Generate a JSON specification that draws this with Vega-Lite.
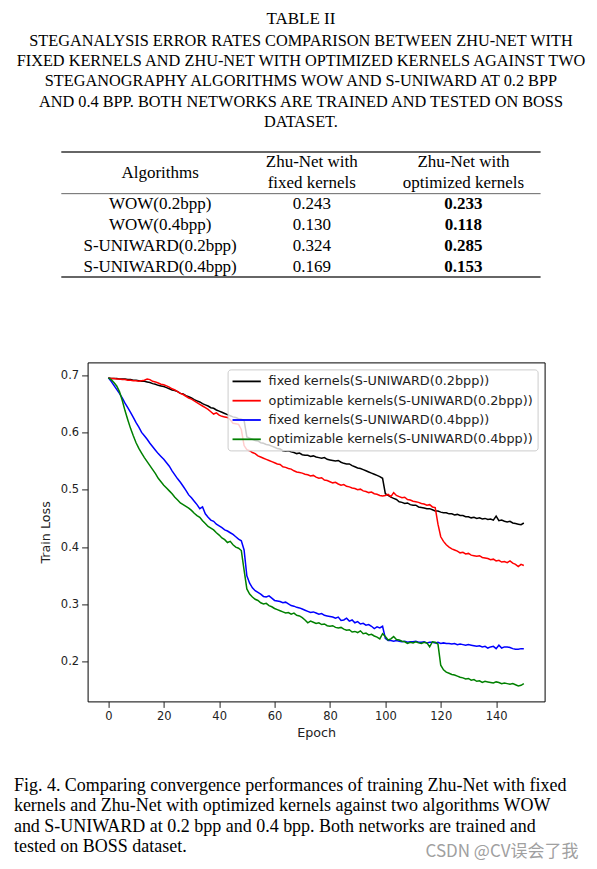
{
  "$schema": "https://vega.github.io/schema/vega-lite/v6.json",
  "background": "white",
  "padding": {"left": 13.3, "top": 9, "right": 0, "bottom": 12},
  "autosize": {"type": "pad"},
  "bounds": "flush",
  "spacing": 85.4,
  "resolve": {"legend": {"color": "independent"}},
  "title": {"text": "CSDN @CV误会了我", "orient": "bottom", "anchor": "start", "align": "left", "frame": "group", "dx": 364.3, "offset": -12.5, "font": "Noto Sans CJK SC", "fontSize": 17, "fontWeight": "normal", "color": "#a0a0a0"},
  "vconcat": [
    {
      "width": 479.3,
      "height": 125,
      "title": {
        "text": "TABLE II",
        "subtitle": [
          "STEGANALYSIS ERROR RATES COMPARISON BETWEEN ZHU-NET WITH",
          "FIXED KERNELS AND ZHU-NET WITH OPTIMIZED KERNELS AGAINST TWO",
          "STEGANOGRAPHY ALGORITHMS WOW AND S-UNIWARD AT 0.2 BPP",
          "AND 0.4 BPP. BOTH NETWORKS ARE TRAINED AND TESTED ON BOSS",
          "DATASET."
        ],
        "anchor": "middle", "frame": "group", "offset": 20,
        "font": "Liberation Serif", "fontSize": 17, "fontWeight": "normal", "color": "#000000",
        "subtitleFont": "Liberation Serif", "subtitleFontSize": 16.3, "subtitleColor": "#000000",
        "subtitleLineHeight": 20.3, "subtitlePadding": 5
      },
      "layer": [
        {
          "data": {"values": [
            {"col": "Algorithms", "r": 1.5, "t": "Algorithms"},
            {"col": "fixed", "r": 1, "t": "Zhu-Net with"},
            {"col": "fixed", "r": 2, "t": "fixed kernels"},
            {"col": "optimized", "r": 1, "t": "Zhu-Net with"},
            {"col": "optimized", "r": 2, "t": "optimized kernels"}
          ]},
          "mark": {"type": "text", "font": "Liberation Serif", "fontSize": 17, "baseline": "middle", "color": "#000000"},
          "encoding": {
            "x": {"field": "col", "type": "nominal", "scale": {"type": "point", "domain": ["Algorithms", "fixed", "optimized"], "padding": 0.58, "align": 0.5616}, "axis": null},
            "y": {"field": "r", "type": "quantitative", "scale": {"domain": [0.5, 6.5], "reverse": true, "nice": false, "zero": false}, "axis": null},
            "text": {"field": "t"}
          }
        },
        {
          "data": {"name": "table"},
          "mark": {"type": "text", "font": "Liberation Serif", "fontSize": 17, "baseline": "middle", "color": "#000000"},
          "encoding": {
            "x": {"datum": "Algorithms", "type": "nominal", "axis": null},
            "y": {"field": "r", "type": "quantitative", "axis": null},
            "text": {"field": "alg"}
          }
        },
        {
          "data": {"name": "table"},
          "mark": {"type": "text", "font": "Liberation Serif", "fontSize": 17, "baseline": "middle", "color": "#000000"},
          "encoding": {
            "x": {"datum": "fixed", "type": "nominal", "axis": null},
            "y": {"field": "r", "type": "quantitative", "axis": null},
            "text": {"field": "fixed", "type": "quantitative", "format": ".3f"}
          }
        },
        {
          "data": {"name": "table"},
          "mark": {"type": "text", "font": "Liberation Serif", "fontSize": 17, "fontWeight": "bold", "baseline": "middle", "color": "#000000"},
          "encoding": {
            "x": {"datum": "optimized", "type": "nominal", "axis": null},
            "y": {"field": "r", "type": "quantitative", "axis": null},
            "text": {"field": "opt", "type": "quantitative", "format": ".3f"}
          }
        },
        {
          "data": {"values": [{"rule": "top"}]},
          "mark": {"type": "rule", "strokeWidth": 1.4, "color": "#333333"},
          "encoding": {"y": {"datum": 0.5, "type": "quantitative", "axis": null}}
        },
        {
          "data": {"values": [{"rule": "middle"}]},
          "mark": {"type": "rule", "strokeWidth": 0.9, "color": "#555555"},
          "encoding": {"y": {"datum": 2.5, "type": "quantitative", "axis": null}}
        },
        {
          "data": {"values": [{"rule": "bottom"}]},
          "mark": {"type": "rule", "strokeWidth": 1.4, "color": "#333333"},
          "encoding": {"y": {"datum": 6.5, "type": "quantitative", "axis": null}}
        }
      ]
    },
    {
      "bounds": "flush",
      "spacing": 25.3,
      "resolve": {"legend": {"color": "independent"}},
      "hconcat": [
        {"width": 1, "height": 1, "data": {"values": []}, "mark": "point"},
        {
          "width": 457,
          "height": 339,
          "view": {"stroke": "#000000", "strokeWidth": 1},
          "title": {
            "text": [
              "Fig. 4.  Comparing convergence performances of training Zhu-Net with fixed",
              "kernels and Zhu-Net with optimized kernels against two algorithms WOW",
              "and S-UNIWARD at 0.2 bpp and 0.4 bpp. Both networks are trained and",
              "tested on BOSS dataset."
            ],
            "orient": "bottom", "anchor": "start", "frame": "group", "align": "left",
            "dx": -73.7, "offset": 37,
            "font": "Liberation Serif", "fontSize": 18, "fontWeight": "normal", "color": "#000000", "lineHeight": 20.5
          },
          "data": {"name": "loss"},
          "transform": [{"fold": ["k", "r", "b", "g"], "as": ["series", "loss"]}],
          "mark": {"type": "line", "strokeWidth": 1.5, "clip": true},
          "encoding": {
            "x": {
              "field": "e", "type": "quantitative",
              "scale": {"domain": [-7.5, 157.5], "nice": false, "zero": false},
              "axis": {"title": "Epoch", "values": [0, 20, 40, 60, 80, 100, 120, 140], "titlePadding": 5}
            },
            "y": {
              "field": "loss", "type": "quantitative",
              "scale": {"domain": [0.131, 0.722], "nice": false, "zero": false},
              "axis": {"title": "Train Loss", "values": [0.2, 0.3, 0.4, 0.5, 0.6, 0.7], "format": ".1f", "titlePadding": 8}
            },
            "color": {
              "field": "series", "type": "nominal",
              "scale": {"domain": ["k", "r", "b", "g"], "range": ["#000000", "#ff0000", "#0000ff", "#008000"]},
              "legend": {
                "title": null, "orient": "top-right", "offset": 7,
                "padding": 4, "rowPadding": 4.3,
                "symbolType": "M-1,0H3", "symbolSize": 200, "symbolStrokeWidth": 1.8,
                "labelOffset": 21, "labelFont": "DejaVu Sans", "labelFontSize": 12.8, "labelColor": "#222222", "labelLimit": 0,
                "fillColor": "rgba(255,255,255,0.8)", "strokeColor": "#cccccc", "cornerRadius": 3,
                "labelExpr": "datum.value == 'k' ? 'fixed kernels(S-UNIWARD(0.2bpp))' : datum.value == 'r' ? 'optimizable kernels(S-UNIWARD(0.2bpp))' : datum.value == 'b' ? 'fixed kernels(S-UNIWARD(0.4bpp))' : 'optimizable kernels(S-UNIWARD(0.4bpp))'"
              }
            }
          }
        }
      ]
    }
  ],
  "datasets": {
    "table": [
      {"alg": "WOW(0.2bpp)", "r": 3, "fixed": 0.243, "opt": 0.233},
      {"alg": "WOW(0.4bpp)", "r": 4, "fixed": 0.130, "opt": 0.118},
      {"alg": "S-UNIWARD(0.2bpp)", "r": 5, "fixed": 0.324, "opt": 0.285},
      {"alg": "S-UNIWARD(0.4bpp)", "r": 6, "fixed": 0.169, "opt": 0.153}
    ],
    "loss": [
      {"e":0,"k":0.695,"r":0.695,"b":0.695,"g":0.695},
      {"e":1,"k":0.694,"r":0.694,"b":0.689,"g":0.692},
      {"e":2,"k":0.694,"r":0.694,"b":0.682,"g":0.687},
      {"e":3,"k":0.694,"r":0.693,"b":0.675,"g":0.681},
      {"e":4,"k":0.693,"r":0.693,"b":0.668,"g":0.671},
      {"e":5,"k":0.693,"r":0.692,"b":0.660,"g":0.656},
      {"e":6,"k":0.693,"r":0.692,"b":0.651,"g":0.638},
      {"e":7,"k":0.692,"r":0.691,"b":0.643,"g":0.622},
      {"e":8,"k":0.692,"r":0.691,"b":0.635,"g":0.607},
      {"e":9,"k":0.691,"r":0.690,"b":0.626,"g":0.594},
      {"e":10,"k":0.691,"r":0.690,"b":0.617,"g":0.582},
      {"e":11,"k":0.690,"r":0.689,"b":0.609,"g":0.572},
      {"e":12,"k":0.689,"r":0.690,"b":0.600,"g":0.564},
      {"e":13,"k":0.689,"r":0.691,"b":0.594,"g":0.556},
      {"e":14,"k":0.688,"r":0.693,"b":0.588,"g":0.549},
      {"e":15,"k":0.687,"r":0.692,"b":0.581,"g":0.542},
      {"e":16,"k":0.685,"r":0.689,"b":0.575,"g":0.535},
      {"e":17,"k":0.684,"r":0.688,"b":0.569,"g":0.528},
      {"e":18,"k":0.682,"r":0.686,"b":0.563,"g":0.520},
      {"e":19,"k":0.681,"r":0.684,"b":0.558,"g":0.514},
      {"e":20,"k":0.680,"r":0.683,"b":0.553,"g":0.508},
      {"e":21,"k":0.678,"r":0.681,"b":0.547,"g":0.503},
      {"e":22,"k":0.676,"r":0.679,"b":0.541,"g":0.498},
      {"e":23,"k":0.674,"r":0.676,"b":0.533,"g":0.493},
      {"e":24,"k":0.673,"r":0.674,"b":0.526,"g":0.487},
      {"e":25,"k":0.671,"r":0.671,"b":0.519,"g":0.482},
      {"e":26,"k":0.668,"r":0.668,"b":0.513,"g":0.477},
      {"e":27,"k":0.667,"r":0.666,"b":0.506,"g":0.474},
      {"e":28,"k":0.664,"r":0.663,"b":0.499,"g":0.471},
      {"e":29,"k":0.662,"r":0.660,"b":0.491,"g":0.468},
      {"e":30,"k":0.660,"r":0.658,"b":0.486,"g":0.464},
      {"e":31,"k":0.657,"r":0.655,"b":0.480,"g":0.459},
      {"e":32,"k":0.655,"r":0.652,"b":0.474,"g":0.455},
      {"e":33,"k":0.653,"r":0.649,"b":0.467,"g":0.452},
      {"e":34,"k":0.650,"r":0.646,"b":0.470,"g":0.446},
      {"e":35,"k":0.648,"r":0.643,"b":0.458,"g":0.441},
      {"e":36,"k":0.646,"r":0.640,"b":0.452,"g":0.436},
      {"e":37,"k":0.643,"r":0.636,"b":0.447,"g":0.433},
      {"e":38,"k":0.642,"r":0.632,"b":0.445,"g":0.430},
      {"e":39,"k":0.639,"r":0.634,"b":0.440,"g":0.425},
      {"e":40,"k":0.637,"r":0.630,"b":0.437,"g":0.421},
      {"e":41,"k":0.635,"r":0.628,"b":0.434,"g":0.416},
      {"e":42,"k":0.633,"r":0.627,"b":0.430,"g":0.413},
      {"e":43,"k":0.631,"r":0.626,"b":0.428,"g":0.408},
      {"e":44,"k":0.629,"r":0.622,"b":0.425,"g":0.410},
      {"e":45,"k":0.627,"r":0.616,"b":0.422,"g":0.404},
      {"e":46,"k":0.626,"r":0.615,"b":0.418,"g":0.400},
      {"e":47,"k":0.624,"r":0.614,"b":0.414,"g":0.398},
      {"e":48,"k":0.623,"r":0.605,"b":0.411,"g":0.394},
      {"e":49,"k":0.621,"r":0.577,"b":0.395,"g":0.360},
      {"e":50,"k":0.592,"r":0.570,"b":0.350,"g":0.327},
      {"e":51,"k":0.590,"r":0.568,"b":0.337,"g":0.318},
      {"e":52,"k":0.588,"r":0.565,"b":0.329,"g":0.313},
      {"e":53,"k":0.586,"r":0.563,"b":0.324,"g":0.309},
      {"e":54,"k":0.585,"r":0.559,"b":0.321,"g":0.307},
      {"e":55,"k":0.582,"r":0.557,"b":0.318,"g":0.303},
      {"e":56,"k":0.581,"r":0.555,"b":0.314,"g":0.301},
      {"e":57,"k":0.579,"r":0.553,"b":0.313,"g":0.302},
      {"e":58,"k":0.578,"r":0.551,"b":0.315,"g":0.298},
      {"e":59,"k":0.576,"r":0.549,"b":0.311,"g":0.296},
      {"e":60,"k":0.574,"r":0.547,"b":0.307,"g":0.293},
      {"e":61,"k":0.572,"r":0.545,"b":0.306,"g":0.291},
      {"e":62,"k":0.571,"r":0.544,"b":0.305,"g":0.289},
      {"e":63,"k":0.568,"r":0.540,"b":0.303,"g":0.287},
      {"e":64,"k":0.567,"r":0.539,"b":0.304,"g":0.285},
      {"e":65,"k":0.568,"r":0.537,"b":0.301,"g":0.286},
      {"e":66,"k":0.566,"r":0.536,"b":0.298,"g":0.283},
      {"e":67,"k":0.565,"r":0.533,"b":0.297,"g":0.285},
      {"e":68,"k":0.563,"r":0.531,"b":0.295,"g":0.281},
      {"e":69,"k":0.564,"r":0.530,"b":0.294,"g":0.280},
      {"e":70,"k":0.561,"r":0.529,"b":0.292,"g":0.277},
      {"e":71,"k":0.560,"r":0.527,"b":0.290,"g":0.273},
      {"e":72,"k":0.560,"r":0.526,"b":0.288,"g":0.268},
      {"e":73,"k":0.558,"r":0.524,"b":0.286,"g":0.271},
      {"e":74,"k":0.559,"r":0.525,"b":0.287,"g":0.269},
      {"e":75,"k":0.557,"r":0.522,"b":0.285,"g":0.267},
      {"e":76,"k":0.556,"r":0.520,"b":0.283,"g":0.268},
      {"e":77,"k":0.555,"r":0.521,"b":0.284,"g":0.265},
      {"e":78,"k":0.556,"r":0.517,"b":0.281,"g":0.266},
      {"e":79,"k":0.553,"r":0.516,"b":0.280,"g":0.263},
      {"e":80,"k":0.552,"r":0.514,"b":0.279,"g":0.262},
      {"e":81,"k":0.551,"r":0.512,"b":0.278,"g":0.263},
      {"e":82,"k":0.550,"r":0.513,"b":0.276,"g":0.260},
      {"e":83,"k":0.551,"r":0.510,"b":0.278,"g":0.259},
      {"e":84,"k":0.548,"r":0.508,"b":0.272,"g":0.260},
      {"e":85,"k":0.546,"r":0.509,"b":0.273,"g":0.257},
      {"e":86,"k":0.545,"r":0.506,"b":0.276,"g":0.255},
      {"e":87,"k":0.545,"r":0.505,"b":0.271,"g":0.256},
      {"e":88,"k":0.542,"r":0.503,"b":0.273,"g":0.252},
      {"e":89,"k":0.540,"r":0.502,"b":0.268,"g":0.253},
      {"e":90,"k":0.538,"r":0.500,"b":0.270,"g":0.251},
      {"e":91,"k":0.537,"r":0.501,"b":0.266,"g":0.254},
      {"e":92,"k":0.535,"r":0.498,"b":0.267,"g":0.249},
      {"e":93,"k":0.533,"r":0.497,"b":0.264,"g":0.250},
      {"e":94,"k":0.531,"r":0.495,"b":0.265,"g":0.247},
      {"e":95,"k":0.529,"r":0.496,"b":0.262,"g":0.248},
      {"e":96,"k":0.527,"r":0.493,"b":0.258,"g":0.245},
      {"e":97,"k":0.525,"r":0.492,"b":0.261,"g":0.243},
      {"e":98,"k":0.523,"r":0.490,"b":0.259,"g":0.240},
      {"e":99,"k":0.520,"r":0.489,"b":0.262,"g":0.249},
      {"e":100,"k":0.493,"r":0.490,"b":0.241,"g":0.244},
      {"e":101,"k":0.490,"r":0.492,"b":0.237,"g":0.238},
      {"e":102,"k":0.487,"r":0.488,"b":0.237,"g":0.240},
      {"e":103,"k":0.485,"r":0.495,"b":0.236,"g":0.244},
      {"e":104,"k":0.483,"r":0.490,"b":0.237,"g":0.239},
      {"e":105,"k":0.479,"r":0.488,"b":0.236,"g":0.238},
      {"e":106,"k":0.478,"r":0.486,"b":0.235,"g":0.236},
      {"e":107,"k":0.476,"r":0.487,"b":0.236,"g":0.235},
      {"e":108,"k":0.477,"r":0.483,"b":0.234,"g":0.232},
      {"e":109,"k":0.474,"r":0.482,"b":0.235,"g":0.234},
      {"e":110,"k":0.473,"r":0.480,"b":0.235,"g":0.233},
      {"e":111,"k":0.473,"r":0.479,"b":0.236,"g":0.235},
      {"e":112,"k":0.470,"r":0.478,"b":0.234,"g":0.233},
      {"e":113,"k":0.469,"r":0.476,"b":0.234,"g":0.232},
      {"e":114,"k":0.468,"r":0.475,"b":0.235,"g":0.234},
      {"e":115,"k":0.467,"r":0.473,"b":0.233,"g":0.233},
      {"e":116,"k":0.467,"r":0.474,"b":0.234,"g":0.226},
      {"e":117,"k":0.465,"r":0.470,"b":0.234,"g":0.235},
      {"e":118,"k":0.463,"r":0.469,"b":0.233,"g":0.234},
      {"e":119,"k":0.463,"r":0.440,"b":0.234,"g":0.231},
      {"e":120,"k":0.461,"r":0.418,"b":0.232,"g":0.194},
      {"e":121,"k":0.460,"r":0.410,"b":0.233,"g":0.186},
      {"e":122,"k":0.460,"r":0.404,"b":0.232,"g":0.182},
      {"e":123,"k":0.458,"r":0.400,"b":0.232,"g":0.180},
      {"e":124,"k":0.458,"r":0.397,"b":0.231,"g":0.178},
      {"e":125,"k":0.456,"r":0.395,"b":0.232,"g":0.177},
      {"e":126,"k":0.457,"r":0.393,"b":0.230,"g":0.175},
      {"e":127,"k":0.455,"r":0.390,"b":0.231,"g":0.173},
      {"e":128,"k":0.455,"r":0.391,"b":0.230,"g":0.172},
      {"e":129,"k":0.453,"r":0.388,"b":0.229,"g":0.170},
      {"e":130,"k":0.453,"r":0.389,"b":0.230,"g":0.171},
      {"e":131,"k":0.451,"r":0.386,"b":0.229,"g":0.168},
      {"e":132,"k":0.452,"r":0.385,"b":0.228,"g":0.169},
      {"e":133,"k":0.450,"r":0.384,"b":0.227,"g":0.166},
      {"e":134,"k":0.451,"r":0.385,"b":0.228,"g":0.167},
      {"e":135,"k":0.449,"r":0.382,"b":0.226,"g":0.164},
      {"e":136,"k":0.450,"r":0.381,"b":0.227,"g":0.166},
      {"e":137,"k":0.448,"r":0.380,"b":0.224,"g":0.165},
      {"e":138,"k":0.449,"r":0.378,"b":0.226,"g":0.164},
      {"e":139,"k":0.447,"r":0.379,"b":0.227,"g":0.163},
      {"e":140,"k":0.454,"r":0.376,"b":0.223,"g":0.165},
      {"e":141,"k":0.446,"r":0.377,"b":0.229,"g":0.164},
      {"e":142,"k":0.447,"r":0.374,"b":0.224,"g":0.162},
      {"e":143,"k":0.445,"r":0.375,"b":0.226,"g":0.163},
      {"e":144,"k":0.444,"r":0.373,"b":0.226,"g":0.162},
      {"e":145,"k":0.445,"r":0.376,"b":0.225,"g":0.161},
      {"e":146,"k":0.442,"r":0.372,"b":0.223,"g":0.162},
      {"e":147,"k":0.441,"r":0.370,"b":0.222,"g":0.160},
      {"e":148,"k":0.440,"r":0.366,"b":0.222,"g":0.158},
      {"e":149,"k":0.439,"r":0.370,"b":0.223,"g":0.159},
      {"e":150,"k":0.442,"r":0.368,"b":0.223,"g":0.162}
    ]
  },
  "config": {
    "view": {"stroke": null},
    "axis": {
      "labelFont": "DejaVu Sans", "labelFontSize": 11.5, "labelColor": "#222222",
      "titleFont": "DejaVu Sans", "titleFontSize": 12.7, "titleFontWeight": "normal", "titleColor": "#222222",
      "tickColor": "#222222", "tickSize": 6, "labelPadding": 3, "grid": false, "domain": false
    }
  }
}
